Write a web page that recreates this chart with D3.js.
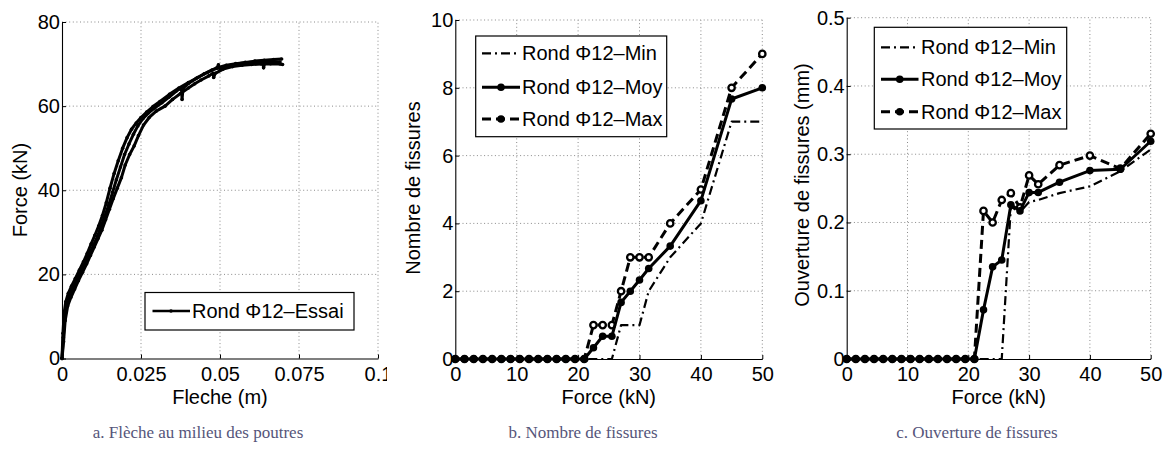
<!DOCTYPE html>
<html>
<head>
<meta charset="utf-8">
<script src="https://cdn.jsdelivr.net/npm/d3@7"></script>
<style>
  html, body { margin: 0; padding: 0; background: #fff; }
  svg { display: block; }
  .tick text, .lab, .leg { font-family: "Liberation Sans", Arial, Helvetica, sans-serif; fill: #000; }
  .cap { font-family: "Liberation Serif", "DejaVu Serif", serif; fill: #55557a; }
</style>
</head>
<body>
<svg id="fig" width="1167" height="449"></svg>
<script>
// ---- (a) load–deflection traces: deflection (m) and force (kN) ----
const essai1Fleche = [0, 0.0003, 0.0007, 0.0012, 0.0020, 0.0030, 0.0042, 0.0055, 0.0068, 0.0080, 0.0092, 0.0104, 0.0116, 0.0128, 0.0140, 0.0152, 0.0165, 0.0178, 0.0192, 0.0206, 0.0220, 0.0235, 0.0250, 0.0268, 0.0288, 0.0310, 0.0340, 0.0370, 0.0400, 0.0430, 0.0460, 0.0490, 0.0520, 0.0550, 0.0580, 0.0610, 0.0640, 0.0670, 0.0695];
const essai1Force  = [0, 6, 11, 13.5, 15.5, 17.2, 19, 21, 23, 25, 27.2, 29.3, 31.5, 34, 37, 40.5, 44, 47, 50, 52.5, 54.5, 56, 57.3, 58.6, 59.9, 61.1, 62.8, 64.3, 65.6, 66.8, 68, 69.1, 69.7, 70.1, 70.4, 70.7, 70.9, 71.1, 71.2];

const essai2Fleche = [0, 0.0004, 0.0009, 0.0015, 0.0024, 0.0035, 0.0048, 0.0062, 0.0075, 0.0088, 0.0100, 0.0112, 0.0124, 0.0136, 0.0148, 0.0160, 0.0172, 0.0185, 0.0198, 0.0212, 0.0226, 0.0240, 0.0256, 0.0274, 0.0294, 0.0316, 0.0340, 0.0362, 0.0378, 0.0380, 0.0383, 0.0400, 0.0425, 0.0450, 0.0475, 0.0490, 0.0495, 0.0500, 0.0520, 0.0550, 0.0580, 0.0610, 0.0635, 0.0638, 0.0642, 0.0665, 0.0690];
const essai2Force  = [0, 5, 10, 12.8, 14.8, 16.8, 18.8, 21, 23, 25, 27, 29, 31.5, 34, 36.5, 39.5, 42.5, 45.5, 48.5, 51, 53.3, 55.3, 57, 58.4, 59.6, 60.8, 62.2, 63.6, 64.3, 61.6, 64.2, 65.4, 66.6, 67.7, 68.6, 69.0, 69.8, 68.8, 69.5, 70, 70.3, 70.5, 70.6, 69.1, 70.5, 70.6, 70.5];

const essai3Fleche = [0, 0.0005, 0.0010, 0.0018, 0.0028, 0.0040, 0.0052, 0.0065, 0.0078, 0.0090, 0.0102, 0.0114, 0.0126, 0.0138, 0.0150, 0.0162, 0.0175, 0.0188, 0.0200, 0.0214, 0.0228, 0.0242, 0.0258, 0.0276, 0.0298, 0.0326, 0.0350, 0.0375, 0.0400, 0.0420, 0.0440, 0.0465, 0.0478, 0.0480, 0.0485, 0.0510, 0.0540, 0.0570, 0.0600, 0.0630, 0.0660, 0.0690, 0.0698];
const essai3Force  = [0, 4, 9, 12.5, 14.5, 16.5, 18.5, 20.5, 22.5, 24.5, 26.5, 28.5, 30.5, 33, 35.5, 38, 40.5, 43, 46, 48.5, 50.5, 53, 55.5, 57.3, 58.8, 60, 61.6, 63, 64.3, 65.3, 66.2, 67.2, 67.8, 66.8, 67.8, 68.8, 69.4, 69.7, 69.9, 70, 70.1, 70.0, 69.9];

// ---- (b), (c) crack count and crack opening vs. applied force (kN) ----
const forceKN = [0, 1.5, 3, 4.5, 6, 7.5, 9, 10.5, 12, 13.5, 15, 16.5, 18, 19.5, 21, 22.5, 24, 25.5, 27, 28.5, 30, 31.5, 35, 40, 45, 50];

const fissuresMin = [0,0,0,0,0,0,0,0,0,0,0,0,0,0,0, 0, 0, 0, 1, 1, 1, 2, 3, 4, 7, 7];
const fissuresMoy = [0,0,0,0,0,0,0,0,0,0,0,0,0,0,0, 0.33, 0.67, 0.67, 1.67, 2, 2.33, 2.67, 3.33, 4.67, 7.67, 8];
const fissuresMax = [0,0,0,0,0,0,0,0,0,0,0,0,0,0,0, 1, 1, 1, 2, 3, 3, 3, 4, 5, 8, 9];

const ouvertureMin = [0,0,0,0,0,0,0,0,0,0,0,0,0,0,0, 0, 0, 0, 0.223, 0.215, 0.230, 0.233, 0.243, 0.253, 0.275, 0.307];
const ouvertureMoy = [0,0,0,0,0,0,0,0,0,0,0,0,0,0,0, 0.072, 0.135, 0.145, 0.226, 0.217, 0.244, 0.244, 0.259, 0.276, 0.278, 0.319];
const ouvertureMax = [0,0,0,0,0,0,0,0,0,0,0,0,0,0,0, 0.217, 0.200, 0.233, 0.243, 0.222, 0.269, 0.256, 0.284, 0.298, 0.279, 0.330];

// ---- tick values and labels ----
const ticksFleche = [0, 0.025, 0.05, 0.075, 0.1];
const labelsFleche = ["0", "0.025", "0.05", "0.075", "0.1"];
const ticksForceA = [0, 20, 40, 60, 80];
const ticksForce = [0, 10, 20, 30, 40, 50];
const ticksFissures = [0, 2, 4, 6, 8, 10];
const ticksOuverture = [0, 0.1, 0.2, 0.3, 0.4, 0.5];
const labelsOuverture = ["0", "0.1", "0.2", "0.3", "0.4", "0.5"];

const seriesNames = ["Rond \u03A612\u2013Min", "Rond \u03A612\u2013Moy", "Rond \u03A612\u2013Max"];
const essaiName = "Rond \u03A612\u2013Essai";
const xLabels = ["Fleche (m)", "Force (kN)", "Force (kN)"];
const yLabels = ["Force (kN)", "Nombre de fissures", "Ouverture de fissures (mm)"];
const captions = ["a. Fl\u00E8che au milieu des poutres", "b. Nombre de fissures", "c. Ouverture de fissures"];

const svg = d3.select("#fig");
const FS = 20;
const X_LABEL_Y = 404;

const styles = {
  min: { dash: "9,4,2,4", width: 2.2 },
  moy: { dash: null, width: 3 },
  max: { dash: "9,5", width: 3 }
};

function frame(g, x, y, xt, xl, yt, yl) {
  const [x0, x1] = x.range();
  const [y0, y1] = y.range();
  const grid = g.append("g").attr("stroke", "#8a8a8a").attr("stroke-width", 1).attr("stroke-dasharray", "1,2.6");
  xt.forEach(v => { if (v !== x.domain()[0]) grid.append("line").attr("x1", x(v)).attr("x2", x(v)).attr("y1", y0).attr("y2", y1); });
  yt.forEach(v => { if (v !== y.domain()[0]) grid.append("line").attr("y1", y(v)).attr("y2", y(v)).attr("x1", x0).attr("x2", x1); });

  const ax = g.append("g").attr("transform", `translate(0,${y0})`)
    .call(d3.axisBottom(x).tickValues(xt).tickFormat((d, i) => xl[i]).tickSizeInner(-4).tickSizeOuter(0).tickPadding(8));
  const ay = g.append("g").attr("transform", `translate(${x0},0)`)
    .call(d3.axisLeft(y).tickValues(yt).tickFormat((d, i) => yl[i]).tickSizeInner(-4).tickSizeOuter(0).tickPadding(2));
  [ax, ay].forEach(a => {
    a.selectAll("text").style("font-size", FS + "px").attr("font-family", null);
    a.select(".domain").attr("stroke", "#000").attr("stroke-width", 1.1);
    a.selectAll(".tick line").attr("stroke", "#000");
  });
}

function legendBox(g, x, y, w, h) {
  g.append("rect").attr("x", x).attr("y", y).attr("width", w).attr("height", h)
    .attr("fill", "#fff").attr("stroke", "#000").attr("stroke-width", 1.2);
}

// ===================== panel (a) =====================
{
  const g = svg.append("g").attr("clip-path", "url(#clipA)");
  svg.append("clipPath").attr("id", "clipA").append("rect").attr("x", 0).attr("y", 0).attr("width", 387).attr("height", 449);
  const x = d3.scaleLinear().domain([0, 0.1]).range([62, 378]);
  const y = d3.scaleLinear().domain([0, 80]).range([358.5, 22]);
  frame(g, x, y, ticksFleche, labelsFleche, ticksForceA, ticksForceA.map(String));

  const traces = [[essai3Fleche, essai3Force], [essai2Fleche, essai2Force], [essai1Fleche, essai1Force]];
  const line = d3.line().x(d => x(d[0])).y(d => y(d[1]));
  traces.forEach(([fx, fy]) => {
    const pts = fx.map((v, i) => [v, fy[i]]);
    g.append("path").datum(pts).attr("d", line).attr("fill", "none").attr("stroke", "#000")
      .attr("stroke-width", 3).attr("stroke-linejoin", "round");
    g.selectAll(null).data(pts).join("circle").attr("cx", d => x(d[0])).attr("cy", d => y(d[1])).attr("r", 1.8).attr("fill", "#000");
  });

  legendBox(g, 145, 292.5, 209, 37.5);
  g.append("line").attr("x1", 152.5).attr("x2", 190).attr("y1", 311).attr("y2", 311).attr("stroke", "#000").attr("stroke-width", 2.6);
  g.append("circle").attr("cx", 171).attr("cy", 311).attr("r", 1.8).attr("fill", "#000");
  g.append("text").attr("class", "leg").attr("x", 192).attr("y", 318).style("font-size", FS + "px").text(essaiName);

  g.append("text").attr("class", "lab").attr("x", 220).attr("y", X_LABEL_Y).attr("text-anchor", "middle").style("font-size", FS + "px").text(xLabels[0]);
  g.append("text").attr("class", "lab").attr("transform", "translate(27,190) rotate(-90)").attr("text-anchor", "middle").style("font-size", FS + "px").text(yLabels[0]);
}

// ============ panels (b) and (c): Min / Moy / Max series ============
function seriesPanel(opt) {
  const g = svg.append("g");
  const x = d3.scaleLinear().domain([0, 50]).range([opt.left, opt.right]);
  const y = d3.scaleLinear().domain(opt.yDomain).range([359, opt.top]);
  frame(g, x, y, ticksForce, ticksForce.map(String), opt.yTicks, opt.yTickLabels);

  const line = d3.line().x(d => x(d[0])).y(d => y(d[1]));
  const mk = vals => forceKN.map((f, i) => [f, vals[i]]);
  const pMin = mk(opt.min), pMoy = mk(opt.moy), pMax = mk(opt.max);

  const draw = (pts, st) => g.append("path").datum(pts).attr("d", line).attr("fill", "none").attr("stroke", "#000")
    .attr("stroke-width", st.width).attr("stroke-dasharray", st.dash).attr("stroke-linejoin", "round");

  draw(pMin, styles.min);
  draw(pMax, styles.max);
  g.selectAll(null).data(pMax).join("circle").attr("cx", d => x(d[0])).attr("cy", d => y(d[1]))
    .attr("r", 3.2).attr("fill", "#fff").attr("stroke", "#000").attr("stroke-width", 2.3);
  draw(pMoy, styles.moy);
  g.selectAll(null).data(pMoy).join("circle").attr("cx", d => x(d[0])).attr("cy", d => y(d[1]))
    .attr("r", 3.8).attr("fill", "#000");

  // legend
  const L = opt.legend;
  legendBox(g, L.x, L.y, L.w, L.h);
  const keys = ["min", "moy", "max"];
  keys.forEach((k, i) => {
    const ry = L.rows[i];
    g.append("line").attr("x1", L.lx0).attr("x2", L.lx1).attr("y1", ry).attr("y2", ry)
      .attr("stroke", "#000").attr("stroke-width", styles[k].width).attr("stroke-dasharray", styles[k].dash);
    if (k !== "min") g.append("circle").attr("cx", (L.lx0 + L.lx1) / 2).attr("cy", ry).attr("r", 3.8).attr("fill", "#000");
    g.append("text").attr("class", "leg").attr("x", L.tx).attr("y", ry + 7).style("font-size", FS + "px").text(seriesNames[i]);
  });

  g.append("text").attr("class", "lab").attr("x", (opt.left + opt.right) / 2).attr("y", X_LABEL_Y).attr("text-anchor", "middle").style("font-size", FS + "px").text(opt.xLabel);
  g.append("text").attr("class", "lab").attr("transform", `translate(${opt.yLabelX},${opt.yLabelY}) rotate(-90)`).attr("text-anchor", "middle").style("font-size", FS + "px").text(opt.yLabel);
}

seriesPanel({
  left: 455.3, right: 762.3, top: 20,
  yDomain: [0, 10], yTicks: ticksFissures, yTickLabels: ticksFissures.map(String),
  min: fissuresMin, moy: fissuresMoy, max: fissuresMax,
  legend: { x: 475.7, y: 36, w: 191, h: 100.7, rows: [53.3, 87.3, 119], lx0: 482, lx1: 520, tx: 522 },
  xLabel: xLabels[1], yLabel: yLabels[1], yLabelX: 420, yLabelY: 188
});

seriesPanel({
  left: 846.7, right: 1150.7, top: 17.7,
  yDomain: [0, 0.5], yTicks: ticksOuverture, yTickLabels: labelsOuverture,
  min: ouvertureMin, moy: ouvertureMoy, max: ouvertureMax,
  legend: { x: 874.3, y: 27.3, w: 192.4, h: 101.7, rows: [47.3, 79.3, 111.7], lx0: 881, lx1: 918.5, tx: 921 },
  xLabel: xLabels[2], yLabel: yLabels[2], yLabelX: 809, yLabelY: 185
});

// ---- sub-figure captions ----
const capX = [198, 583, 977];
captions.forEach((c, i) => {
  svg.append("text").attr("class", "cap").attr("x", capX[i]).attr("y", 438).attr("text-anchor", "middle").style("font-size", "17px").text(c);
});
</script>
</body>
</html>
